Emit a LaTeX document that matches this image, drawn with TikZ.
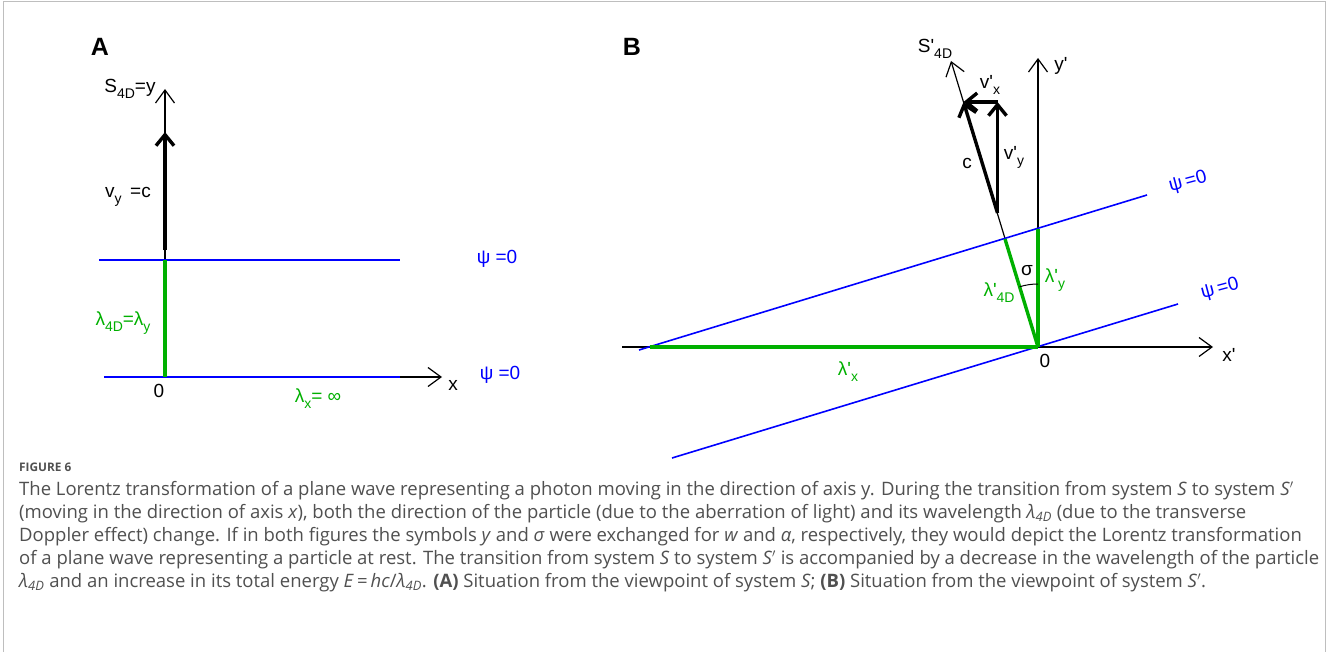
\documentclass[tikz,border=0pt]{standalone}
\usepackage{fontspec}
\setmainfont{Liberation Sans}
\newfontfamily\capfont{Open Sans}
\usetikzlibrary{arrows.meta}
\definecolor{gr}{RGB}{0,176,0}
\definecolor{bl}{RGB}{0,0,255}
\definecolor{capgray}{RGB}{80,80,80}
\definecolor{framegray}{RGB}{190,190,190}
\newcommand\lsub[1]{\raisebox{-0.32em}{\fontsize{14}{14}\selectfont #1}}
\newcommand\pr{\textquotesingle}
\newcommand\csub[1]{\textsubscript{\itshape #1}}
\tikzset{
  lab/.style={font=\fontsize{19}{21}\selectfont, inner sep=0pt},
  panel/.style={font=\fontsize{25}{28}\selectfont\bfseries, inner sep=0pt},
  thinax/.style={draw=black, line width=1.2pt, -{Straight Barb[length=13pt,width=19pt]}},
  thickvec/.style={draw=black, line width=3.4pt, -{Straight Barb[length=11pt,width=18pt]}},
  wave/.style={draw=bl, line width=1.6pt},
  lam/.style={draw=gr, line width=3.4pt},
  capline/.style={anchor=base west, inner sep=0pt, text=capgray, font=\capfont\fontsize{18.5}{21}\selectfont},
}
\begin{document}
\begin{tikzpicture}[x=1pt,y=-1pt]
\useasboundingbox (0,0) rectangle (1329,652);
\fill[white] (0,0) rectangle (1329,652);
\draw[framegray, line width=1pt] (3.5,700) -- (3.5,1.5) -- (1325.5,1.5) -- (1325.5,700);

% ---------- Panel A ----------
\node[panel] (pA) at (100,47) {A};
\coordinate (OA) at (165,377);
\coordinate (yA) at (165,89);
\coordinate (xA) at (442,377);
\coordinate (wA1) at (99,260);
\coordinate (wA2) at (400,260);
\coordinate (wA3) at (104,377);
\coordinate (wA4) at (400,377);
\coordinate (lA) at (165,260);
\coordinate (vA0) at (165,250);
\coordinate (vA1) at (165,132);

\draw[thinax] (OA) -- (yA);
\draw[thinax] (wA3) -- (xA);
\draw[wave] (wA1) -- (wA2);
\draw[wave] (wA3) -- (wA4);
\draw[lam] (lA) -- (OA);
\draw[thickvec] (vA0) -- (vA1);

\node[lab] (sA) at (130,89) {S\lsub{4D}=y};
\node[lab] (vyA) at (128,197) {v\lsub{y}\, =c};
\node[lab, text=gr] (l4A) at (123,323) {λ\lsub{4D}=λ\lsub{y}};
\node[lab] (zA) at (159,391) {0};
\node[lab, text=gr] (lxA) at (318,399) {λ\lsub{x}= ∞};
\node[lab] (xlA) at (453,385) {x};
\node[lab, text=bl] (psA1) at (497,259) {ψ =0};
\node[lab, text=bl] (psA2) at (500,375) {ψ =0};

% ---------- Panel B ----------
\node[panel] (pB) at (632,47) {B};
\coordinate (OB) at (1038,347);
\coordinate (xB0) at (622,347);
\coordinate (xB) at (1213,347);
\coordinate (yB) at (1038,58);
\coordinate (sB) at (951,61);
\coordinate (wB1) at (639,350);
\coordinate (wB2) at (1147,195);
\coordinate (wB3) at (672,458);
\coordinate (wB4) at (1178,304);
\coordinate (lxB) at (650,347);
\coordinate (lyB) at (1038,229);
\coordinate (l4B) at (1005,239);
\coordinate (cB0) at (997.5,213);
\coordinate (cB1) at (963.5,102);
\coordinate (vyB1) at (997.5,102);

\draw[thinax] (xB0) -- (xB);
\draw[thinax] (OB) -- (yB);
\draw[thinax] (OB) -- (sB);
\draw[wave] (wB1) -- (wB2);
\draw[wave] (wB3) -- (wB4);
\draw[lam] (lxB) -- (OB);
\draw[lam] (OB) -- (lyB);
\draw[lam] (OB) -- (l4B);
\draw[black, line width=1pt] (1038,284) arc[start angle=-90, end angle=-107, radius=63];
\draw[thickvec] (cB0) -- (cB1);
\draw[thickvec] (cB0) -- (vyB1);
\draw[thickvec] (vyB1) -- (cB1);

\node[lab] (sBl) at (935,49) {S\pr\lsub{4D}};
\node[lab] (yBl) at (1061,66) {y\pr};
\node[lab] (vxB) at (990,85) {v\pr\lsub{x}};
\node[lab] (cBl) at (967,163) {c};
\node[lab] (vyB) at (1014,157) {v\pr\lsub{y}};
\node[lab] (sig) at (1027,271) {σ};
\node[lab, text=gr] (lyl) at (1055,280) {λ\pr\lsub{y}};
\node[lab, text=gr] (l4l) at (999,293) {λ\pr\lsub{4D}};
\node[lab, text=gr] (lxl) at (848,372) {λ\pr\lsub{x}};
\node[lab] (zB) at (1045,361) {0};
\node[lab] (xBl) at (1229,355) {x\pr};
\node[lab, text=bl, rotate=15] (psB1) at (1188,182) {ψ\,=0};
\node[lab, text=bl, rotate=15] (psB2) at (1220,289) {ψ\,=0};

% ---------- Caption ----------
\node[anchor=base west, inner sep=0pt, text=capgray, font=\capfont\fontsize{11.8}{14}\selectfont\bfseries] (fig) at (19,471) {FIGURE 6};
\node[capline] (c1) at (19,495) {The Lorentz transformation of a plane wave representing a photon moving in the direction of axis y. During the transition from system \textit{S} to system \textit{S}$'$};
\node[capline] (c2) at (19,518) {(moving in the direction of axis \textit{x}), both the direction of the particle (due to the aberration of light) and its wavelength \textit{λ}\csub{4D} (due to the transverse};
\node[capline] (c3) at (19,541) {Doppler effect) change. If in both figures the symbols \textit{y} and \textit{σ} were exchanged for \textit{w} and \textit{α}, respectively, they would depict the Lorentz transformation};
\node[capline] (c4) at (19,564) {of a plane wave representing a particle at rest. The transition from system \textit{S} to system \textit{S}$'$ is accompanied by a decrease in the wavelength of the particle};
\node[capline] (c5) at (19,587) {\textit{λ}\csub{4D} and an increase in its total energy \textit{E}\,=\,\textit{hc}/\textit{λ}\csub{4D}. \textbf{(A)} Situation from the viewpoint of system \textit{S}; \textbf{(B)} Situation from the viewpoint of system \textit{S}$'$.};
\end{tikzpicture}
\end{document}
